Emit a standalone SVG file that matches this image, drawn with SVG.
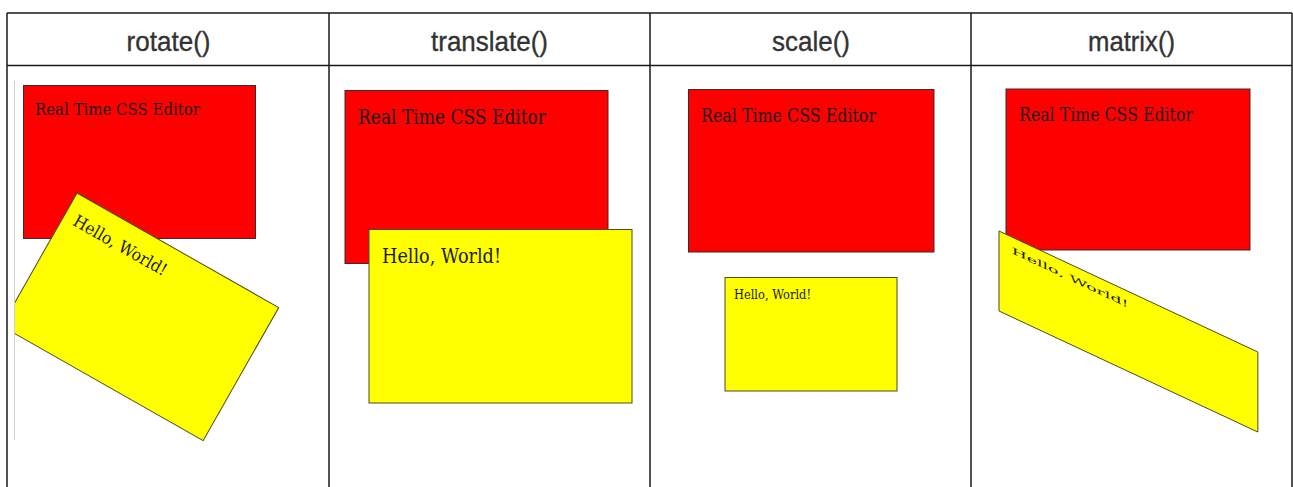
<svg xmlns="http://www.w3.org/2000/svg" width="1293" height="487" viewBox="0 0 1293 487">
  <style>
    .grid { stroke: #1a1a1a; stroke-width: 1.5; fill: none; }
    .head { font-family: "Liberation Sans", Arial, sans-serif; font-size: 28px; fill: #333; stroke: #333; stroke-width: 0.35; text-anchor: middle; }
    .red { fill: #ff0000; stroke: #3a2a2a; stroke-width: 1; }
    .yellow { fill: #ffff00; stroke: #4a4a2a; stroke-width: 1; }
    .lbl { font-family: "DejaVu Serif", "Liberation Serif", serif; fill: #1a1a1a; }
  </style>
  <defs>
    <clipPath id="rotateFrame">
      <rect x="15" y="66" width="313" height="421"/>
    </clipPath>
  </defs>
  <rect width="1293" height="487" fill="#ffffff"/>

  <!-- table frame -->
  <g id="table">
    <path class="grid" d="M7 13 H1292 M7 65.5 H1292 M7 13 V487 M329 13 V487 M650 13 V487 M971 13 V487 M1292 13 V487"/>
    <text class="head" x="168.5" y="51" textLength="84" lengthAdjust="spacingAndGlyphs">rotate()</text>
    <text class="head" x="489.5" y="51" textLength="117" lengthAdjust="spacingAndGlyphs">translate()</text>
    <text class="head" x="811" y="51" textLength="78" lengthAdjust="spacingAndGlyphs">scale()</text>
    <text class="head" x="1131.5" y="51" textLength="87" lengthAdjust="spacingAndGlyphs">matrix()</text>
  </g>

  <!-- rotate() -->
  <g id="rotate-demo">
    <line x1="14.5" y1="81" x2="14.5" y2="440" stroke="#cfcfcf" stroke-width="1"/>
    <rect class="red" x="23.5" y="85.5" width="232" height="153"/>
    <text class="lbl" x="35" y="115" font-size="17" textLength="165" lengthAdjust="spacingAndGlyphs">Real Time CSS Editor</text>
    <g clip-path="url(#rotateFrame)">
      <g transform="translate(77 193) rotate(29.6)">
        <rect class="yellow" x="0" y="0" width="232" height="153"/>
        <text class="lbl" x="11" y="30" font-size="17" textLength="105" lengthAdjust="spacingAndGlyphs">Hello, World!</text>
      </g>
    </g>
  </g>

  <!-- translate() -->
  <g id="translate-demo">
    <rect class="red" x="345" y="90.5" width="263" height="173"/>
    <text class="lbl" x="358" y="124" font-size="19.5" textLength="188" lengthAdjust="spacingAndGlyphs">Real Time CSS Editor</text>
    <rect class="yellow" x="369" y="229.5" width="263" height="173.5"/>
    <text class="lbl" x="382" y="263" font-size="19.5" textLength="119" lengthAdjust="spacingAndGlyphs">Hello, World!</text>
  </g>

  <!-- scale() -->
  <g id="scale-demo">
    <rect class="red" x="688.5" y="89.5" width="245.5" height="162.5"/>
    <text class="lbl" x="701" y="121.5" font-size="18" textLength="175" lengthAdjust="spacingAndGlyphs">Real Time CSS Editor</text>
    <rect class="yellow" x="725" y="277.5" width="172" height="113.5"/>
    <text class="lbl" x="734" y="299" font-size="12.5" textLength="77" lengthAdjust="spacingAndGlyphs">Hello, World!</text>
  </g>

  <!-- matrix() -->
  <g id="matrix-demo">
    <rect class="red" x="1006" y="89" width="244" height="161"/>
    <text class="lbl" x="1019" y="121" font-size="18" textLength="174" lengthAdjust="spacingAndGlyphs">Real Time CSS Editor</text>
    <g transform="matrix(1.061 0.496 0 0.497 999 231)">
      <rect class="yellow" x="0" y="0" width="244" height="161" vector-effect="non-scaling-stroke"/>
      <text class="lbl" x="12" y="33" font-size="18" textLength="110" lengthAdjust="spacingAndGlyphs">Hello, World!</text>
    </g>
  </g>
</svg>
